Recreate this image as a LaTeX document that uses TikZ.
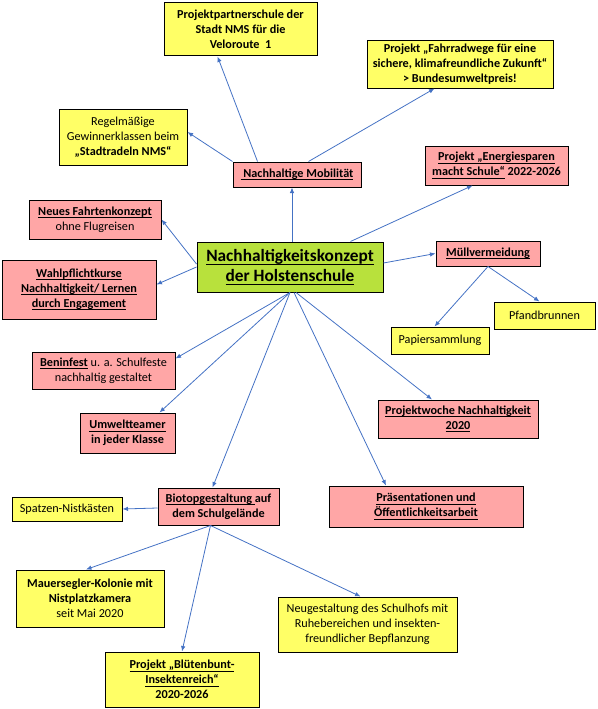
\documentclass[tikz,border=0pt]{standalone}
\usepackage{fontspec}
\setmainfont{Carlito}
\usepackage{tikz}
\usetikzlibrary{arrows.meta}
\tikzset{>={Latex[width=4.5pt,length=5.5pt]}}
\definecolor{arrowblue}{RGB}{68,114,196}
\definecolor{boxyellow}{RGB}{255,255,102}
\definecolor{boxpink}{RGB}{255,166,166}
\definecolor{boxgreen}{RGB}{184,225,60}
\newcommand{\ulk}[1]{\underline{\raisebox{0pt}[\height][1pt]{#1}}}
\tikzset{
  ybox/.style={draw=black, line width=1pt, fill=boxyellow, align=center, inner sep=1pt},
  pbox/.style={draw=black, line width=1pt, fill=boxpink, align=center, inner sep=1pt},
  gbox/.style={draw=black, line width=1pt, fill=boxgreen, align=center, inner sep=1pt,
    font=\fontsize{17.3}{20.5}\selectfont\bfseries},
  link/.style={->, draw=arrowblue, line width=0.8pt}
}

\begin{document}
\begin{tikzpicture}[x=1pt, y=-1pt, font=\fontsize{12.2}{15}\selectfont]
    \useasboundingbox (0,0) rectangle (597,709);

    % centre
    \node[gbox, minimum width=186, minimum height=50] (central) at (290,267)
      {\ulk{Nachhaltigkeitskonzept}\\\ulk{der Holstenschule}};

    % mobility branch
    \node[pbox, minimum width=128, minimum height=25] (mob) at (297,174.5)
      {\textbf{\ulk{\ Nachhaltige Mobilität}}};
    \node[ybox, minimum width=153, minimum height=53] (partner) at (240.5,29.5)
      {\textbf{Projektpartnerschule der}\\\textbf{Stadt NMS für die}\\\textbf{Veloroute~ 1}};
    \node[ybox, minimum width=128, minimum height=56] (regel) at (123,137)
      {Regelmäßige\\Gewinnerklassen beim\\\textbf{„Stadtradeln NMS“}};
    \node[ybox, minimum width=186, minimum height=47] (fahrrad) at (460,64.5)
      {\textbf{Projekt „Fahrradwege für eine}\\\textbf{sichere, klimafreundliche Zukunft“}\\\textbf{> Bundesumweltpreis!}};

    \node[pbox, minimum width=143, minimum height=39] (energie) at (496.5,165.5)
      {\textbf{\ulk{Projekt „Energiesparen}}\\\textbf{\ulk{macht Schule“} 2022-2026}};
    \node[pbox, minimum width=132, minimum height=39] (fahrten) at (95,219.5)
      {\textbf{\ulk{Neues Fahrtenkonzept}}\\ohne Flugreisen};
    \node[pbox, minimum width=154, minimum height=59] (wpk) at (79,289.5)
      {\textbf{\ulk{Wahlpflichtkurse}}\\\textbf{\ulk{Nachhaltigkeit/ Lernen}}\\\textbf{\ulk{durch Engagement}}};

    % waste branch
    \node[pbox, minimum width=104, minimum height=25] (muell) at (488,253.5)
      {\textbf{\ulk{Müllvermeidung}}};
    \node[ybox, minimum width=101, minimum height=27] (pfand) at (544.5,315.5) {Pfandbrunnen};
    \node[ybox, minimum width=98, minimum height=27] (papier) at (440,340.5) {Papiersammlung};

    \node[pbox, minimum width=143, minimum height=37] (benin) at (103.5,370.5)
      {\textbf{\ulk{Beninfest}} u. a. Schulfeste\\nachhaltig gestaltet};
    \node[pbox, minimum width=95, minimum height=40] (umwelt) at (127.5,433)
      {\textbf{\ulk{Umweltteamer}}\\\textbf{in jeder Klasse}};
    \node[pbox, minimum width=160, minimum height=38] (woche) at (458,419)
      {\textbf{\ulk{Projektwoche Nachhaltigkeit}}\\\textbf{\ulk{2020}}};
    \node[pbox, minimum width=194, minimum height=41] (praes) at (426,506.5)
      {\textbf{\ulk{Präsentationen und}}\\\textbf{\ulk{Öffentlichkeitsarbeit}}};

    % biotope branch
    \node[pbox, minimum width=121, minimum height=37] (biotop) at (218.5,506.5)
      {\textbf{\ulk{Biotopgestaltung }auf}\\\textbf{dem Schulgelände}};
    \node[ybox, minimum width=110, minimum height=24] (spatz) at (67,509) {Spatzen-Nistkästen};
    \node[ybox, minimum width=148, minimum height=57] (mauer) at (90,598.5)
      {\textbf{Mauersegler-Kolonie mit}\\\textbf{Nistplatzkamera}\\seit Mai 2020};
    \node[ybox, minimum width=179, minimum height=55] (neu) at (367.5,624.5)
      {Neugestaltung des Schulhofs mit\\Ruhebereichen und insekten-\\freundlicher Bepflanzung};
    \node[ybox, minimum width=154, minimum height=55] (blueten) at (182,679.5)
      {\textbf{\ulk{Projekt „Blütenbunt-}}\\\textbf{\ulk{Insektenreich“}}\\\textbf{2020-2026}};

    \draw[link] ([xshift=2]central.north) -- ([xshift=-5]mob.south);
    \draw[link] ([xshift=25]mob.north west) -- ([xshift=54]partner.south west);
    \draw[link] (mob.north west) -- ([yshift=5]regel.east);
    \draw[link] ([xshift=-53]mob.north east) -- ([xshift=68]fahrrad.south west);

    \draw[link] ([xshift=-33]central.north east) -- ([xshift=48]energie.south west);
    \draw[link] ([yshift=4]central.east) -- (muell.west);
    \draw[link] (muell.south) -- ([xshift=44]papier.north west);
    \draw[link] (muell.south) -- ([xshift=46]pfand.north west);
    \draw[link] ([yshift=3]central.west) -- (fahrten.east);
    \draw[link] (central.west) -- ([yshift=5]wpk.east);

    \draw[link] (central.south) -- ([yshift=12]benin.east);
    \draw[link] (central.south) -- ([xshift=-16]umwelt.north east);
    \draw[link] (central.south) -- ([xshift=-6]biotop.north);
    \draw[link] ([xshift=6]central.south) -- ([xshift=-26]woche.north);
    \draw[link] ([xshift=4]central.south) -- ([xshift=-40]praes.north);

    \draw[link] ([yshift=-1.5]biotop.west) -- (spatz.east);
    \draw[link] ([xshift=-8]biotop.south) -- ([xshift=-4]mauer.north);
    \draw[link] ([xshift=-8]biotop.south) -- (blueten.north);
    \draw[link] ([xshift=-8]biotop.south) -- ([xshift=-7]neu.north);

  \end{tikzpicture}
\end{document}
